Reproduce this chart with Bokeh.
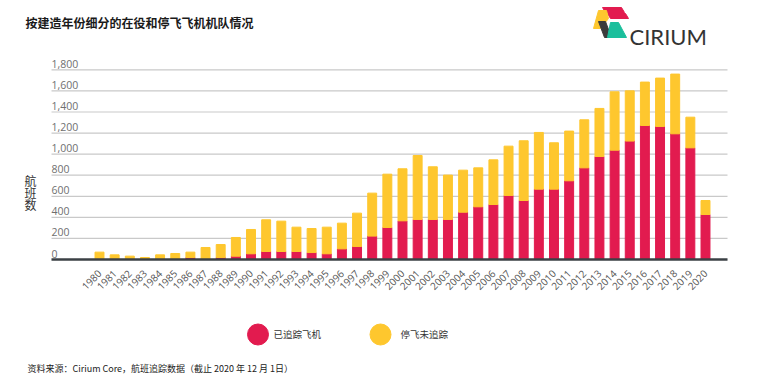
from math import pi
from bokeh.plotting import figure
from bokeh.models import Range1d, FixedTicker, Label, ColumnDataSource
from bokeh.layouts import column
from bokeh.embed import file_html
from bokeh.resources import INLINE
from bokeh.core.properties import value

# ---------------- data ----------------
years = list(range(1980, 2021))
year_labels = [str(y) for y in years]
tracked = [0, 0, 0, 0, 0, 0, 19, 5, 19, 32, 54,
           76, 76, 76, 66, 54, 101, 123, 222, 304, 367,
           380, 380, 380, 449, 500, 522, 608, 560, 668, 668,
           747, 870, 978, 1038, 1124, 1272, 1263, 1193, 1060, 427]
total = [70, 44, 32, 19, 44, 57, 70, 114, 142, 209, 285,
         377, 364, 307, 294, 307, 345, 440, 630, 810, 861,
         987, 880, 801, 848, 870, 946, 1076, 1127, 1206, 1108,
         1219, 1326, 1434, 1592, 1601, 1684, 1722, 1760, 1351, 560]
parked = [t - r for t, r in zip(total, tracked)]

ytick_vals = [0, 200, 400, 600, 800, 1000, 1200, 1400, 1600, 1800]
ytick_labels = ["0", "200", "400", "600", "800", "1,000", "1,200", "1,400", "1,600", "1,800"]

series_names = ["已追踪飞机", "停飞未追踪"]
TITLE = "按建造年份细分的在役和停飞飞机机队情况"
YLABEL = "航\n班\n数"
SOURCE = "资料来源：Cirium Core，航班追踪数据（截止 2020 年 12 月 1日）"

RED = "#E21B4F"
YELLOW = "#FEC72E"
COLORS = [RED, YELLOW]

# ---------------- layout constants (pixels) ----------------
W = 759
H_TOP = 308
H_BOT = 72
BASE_Y = 259          # pixel row of value 0
PX_PER_UNIT = 0.10535 # pixels per aircraft
FIRST_X = 99          # pixel column of the first bar centre
PX_PER_YEAR = 15.15
GRID_L, GRID_R = 51, 727

x_start = years[0] - FIRST_X / PX_PER_YEAR
x_end = years[0] + (W - FIRST_X) / PX_PER_YEAR
y_end = BASE_Y / PX_PER_UNIT

# ---------------- main chart ----------------
p = figure(width=W, height=H_TOP,
           x_range=Range1d(x_start, x_end), y_range=Range1d(0, y_end),
           output_backend="svg", toolbar_location=None, y_axis_location=None,
           min_border_left=0, min_border_right=0, min_border_top=0,
           min_border_bottom=H_TOP - BASE_Y)
p.outline_line_color = None
p.background_fill_color = "white"
p.border_fill_color = "white"
p.grid.visible = False

# pixel helper ranges (page coordinates) for decorations
p.extra_x_ranges = {"px": Range1d(0, W)}
p.extra_y_ranges = {"py": Range1d(BASE_Y, 0)}

# gridlines
p.segment(x0=[GRID_L] * len(ytick_vals), x1=[GRID_R] * len(ytick_vals),
          y0=ytick_vals, y1=ytick_vals, x_range_name="px",
          line_color="#c9c9c9", line_width=1.2)

src = ColumnDataSource(dict(year=years, tracked=tracked, parked=parked))
p.vbar_stack(["tracked", "parked"], x="year", width=0.59, color=COLORS, source=src)

p.text(x=[GRID_L] * len(ytick_vals), y=ytick_vals, text=ytick_labels, x_range_name="px",
       text_baseline="bottom", text_align="left", y_offset=-2,
       text_font=value("Open Sans"), text_font_size="10.5px", text_color="#6f6f6f")

ax = p.xaxis[0]
ax.ticker = FixedTicker(ticks=years)
ax.bounds = (years[0] - (FIRST_X - GRID_L) / PX_PER_YEAR,
             years[0] + (GRID_R - FIRST_X) / PX_PER_YEAR)
ax.major_label_overrides = {y: s for y, s in zip(years, year_labels)}
ax.major_label_orientation = pi / 4
ax.major_tick_line_color = None
ax.minor_tick_line_color = None
ax.axis_line_color = "#3b4045"
ax.axis_line_width = 2.5
ax.major_label_text_font = "Open Sans"
ax.major_label_text_font_size = "10px"
ax.major_label_text_color = "#555555"
ax.major_label_standoff = 6

p.add_layout(Label(x=25, y=22, x_range_name="px", y_range_name="py", text=TITLE,
                   text_font="Noto Sans CJK SC", text_font_style="bold",
                   text_font_size="12px", text_baseline="middle", text_color="#1a1a1a"))
p.add_layout(Label(x=30, y=192, x_range_name="px", y_range_name="py", text=YLABEL,
                   text_font="Noto Sans CJK SC", text_font_size="12px",
                   text_align="center", text_baseline="middle", text_line_height=0.72,
                   text_color="#333333"))

# logo (decoration)
logo_xs = [[602, 621, 624, 605], [607, 625, 628, 610], [598, 606, 608, 600, 593],
           [598, 605, 611, 604], [610, 618, 626, 607]]
logo_ys = [[7, 7, 12, 12], [13, 13, 18, 18], [10, 10, 18, 28, 28],
           [21, 21, 37, 37], [22, 22, 37, 37]]
logo_cols = [RED, RED, YELLOW, "#3b3b3b", "#1bbf9c"]
p.patches(logo_xs, logo_ys, color=logo_cols, x_range_name="px", y_range_name="py")
p.add_layout(Label(x=629, y=36, x_range_name="px", y_range_name="py", text="CIRIUM",
                   text_font="Lato", text_font_size="22px", text_baseline="middle",
                   text_color="#333333"))

# ---------------- legend + source ----------------
q = figure(width=W, height=H_BOT, x_range=Range1d(0, W), y_range=Range1d(H_TOP + H_BOT, H_TOP),
           output_backend="svg", toolbar_location=None,
           x_axis_location=None, y_axis_location=None, min_border=0)
q.outline_line_color = None
q.grid.visible = False
q.scatter(x=[257.5, 380], y=[334, 334], size=21, color=COLORS)
q.text(x=[273, 400], y=[333, 333], text=series_names, text_baseline="middle",
       text_font=value("Noto Sans CJK SC"), text_font_size="9.5px", text_color="#333333")
q.text(x=[27], y=[368], text=[SOURCE], text_baseline="middle",
       text_font=value("Noto Sans CJK SC"), text_font_size="9px", text_color="#222222")

layout = column(p, q, spacing=0)
open("out.html", "w").write(file_html(layout, INLINE))
